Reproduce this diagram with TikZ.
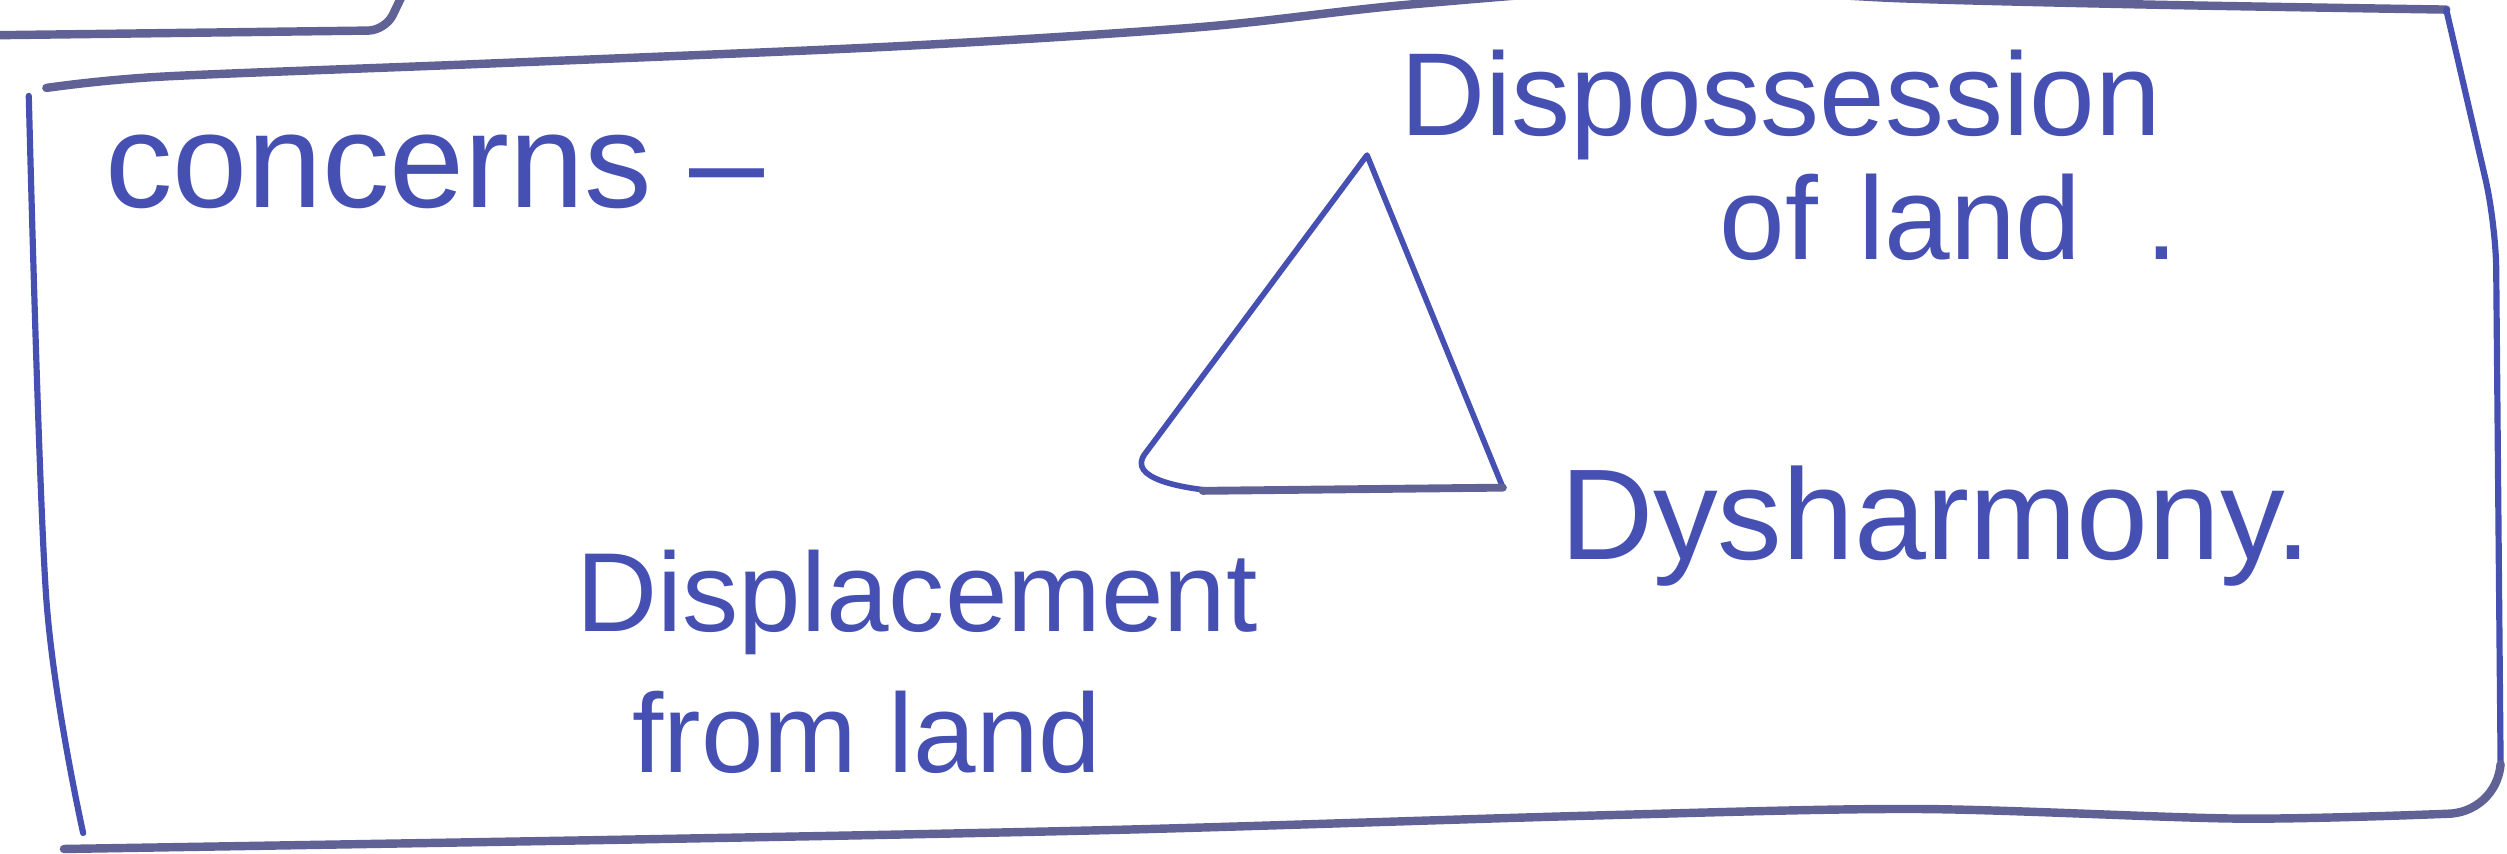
\documentclass[tikz,border=0pt]{standalone}
\usepackage{fontspec}
\newfontfamily\handfont{Liberation Sans}
\usetikzlibrary{positioning}
\definecolor{ink}{RGB}{70,80,178}
\definecolor{frameink}{RGB}{96,98,150}
\tikzset{
  note/.style={inner sep=0pt, text=ink, anchor=base west,
               font=\handfont\fontsize{21}{24}\selectfont},
  frameline/.style={draw=frameink, line width=1.5pt, line cap=round, line join=round},
  sideline/.style={draw=ink, line width=1.1pt, line cap=round, line join=round},
  penline/.style={draw=ink, line width=1pt, line join=round},
}
\begin{document}
\begin{tikzpicture}[x=0.1mm, y=-0.1mm]
  \useasboundingbox (0,0) rectangle (1568,534);
  \fill[white] (0,0) rectangle (1568,534);
  \clip (0,0) rectangle (1568,534);

  % Box edges
  \draw[frameline, rounded corners=3pt] (0,22) -- (241,19) -- (256,-12);
  \draw[frameline] plot[smooth] coordinates {(29,55) (100,48) (300,40) (560,29)
        (750,17) (880,3) (1040,-8) (1190,-1) (1350,3) (1530,6)};
  \draw[sideline, rounded corners=8pt] (1530,6) -- (1561,140) -- (1564,478);
  \draw[frameline] plot[smooth] coordinates {(40,531) (400,525) (700,519) (1000,510)
        (1200,506) (1400,512) (1530,509)} to[out=0,in=-95] (1564,478);
  \draw[sideline] plot[smooth] coordinates {(18,60) (29,375) (52,521)};

  % Triangle
  \coordinate (apex) at (855,97);
  \coordinate (baseL) at (710,307);
  \coordinate (baseR) at (940,305);
  \draw[penline] (baseR) -- (apex) -- (716,284) to[out=-126,in=175] ([xshift=14]baseL);
  \draw[frameline, line width=1.4pt] ([xshift=12]baseL) -- (baseR);

  % Labels
  \node[note, font=\handfont\fontsize{24}{28}\selectfont] (concerns) at (65,130) {concerns –};
  \node[note] (dispossession) at (875,85) {Dispossession};
  \node[note] (ofland) at (1075,162) {of\hspace{2.5mm}land\hspace{4mm}.};
  \node[note, font=\handfont\fontsize{23}{26}\selectfont] (dysharmony) at (975,350) {Dysharmony.};
  \node[note, font=\handfont\fontsize{20}{24}\selectfont] (displacement) at (360,395) {Displacement};
  \node[note, font=\handfont\fontsize{20}{24}\selectfont] (fromland) at (395,483) {from land};
\end{tikzpicture}
\end{document}
